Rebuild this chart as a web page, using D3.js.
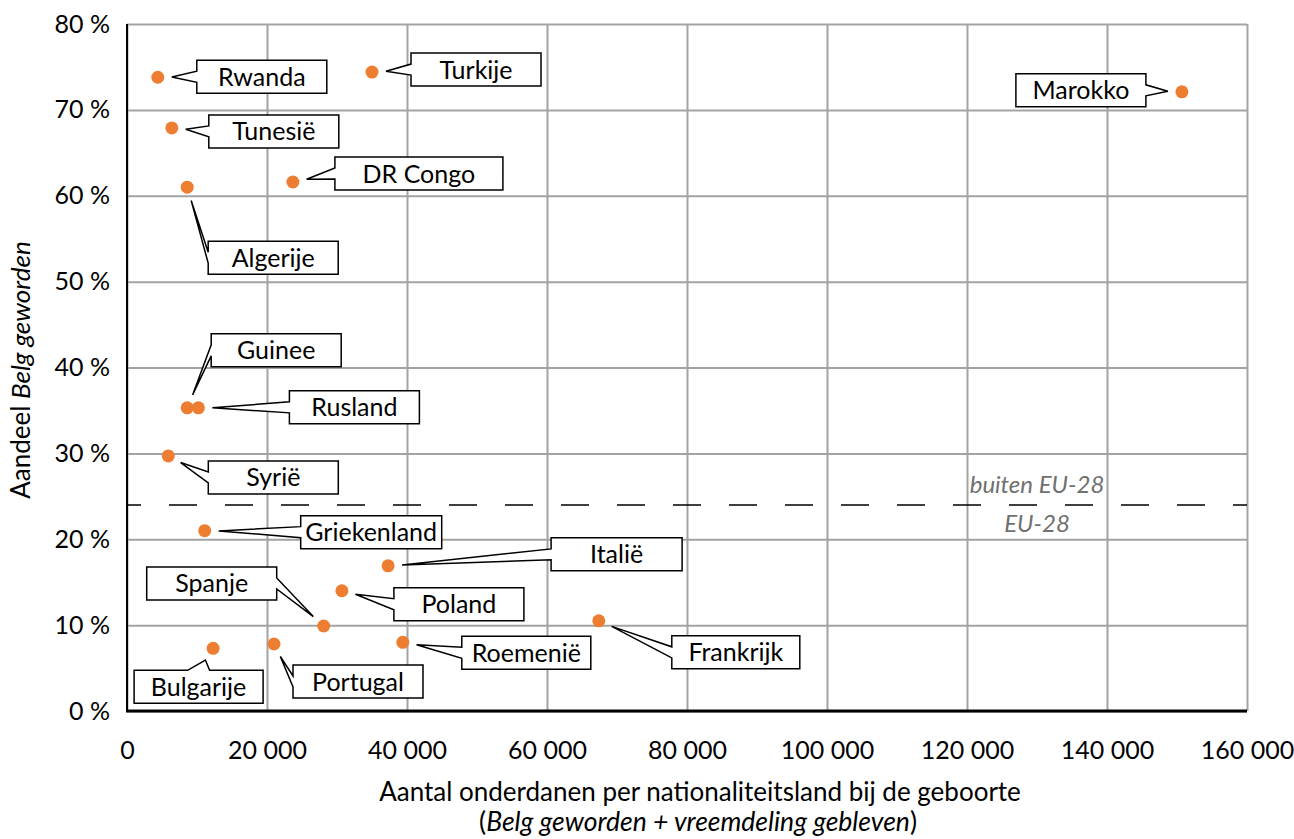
<!DOCTYPE html>
<html>
<head>
<meta charset="utf-8">
<script src="https://cdn.jsdelivr.net/npm/d3@7"></script>
<style>
  html, body { margin: 0; padding: 0; background: #fff; }
  svg { display: block; font-family: Lato, "Open Sans", sans-serif; }
</style>
</head>
<body>
<svg id="chart" width="1294" height="839"></svg>
<script>
// ---------------- data ----------------
const countries = ["Rwanda", "Turkije", "Marokko", "Tunesië", "DR Congo", "Algerije", "Guinee", "Rusland", "Syrië",
  "Griekenland", "Italië", "Poland", "Spanje", "Frankrijk", "Roemenië", "Portugal", "Bulgarije"];
const totals = [4400, 35000, 150700, 6400, 23700, 8600, 8600, 10200, 5900,
  11100, 37300, 30700, 28100, 67400, 39400, 21000, 12300];
const shares = [73.8, 74.4, 72.1, 67.9, 61.6, 61.0, 35.3, 35.3, 29.7,
  21.0, 16.9, 14.0, 9.9, 10.5, 8.0, 7.8, 7.3];
const xTicks = [0, 20000, 40000, 60000, 80000, 100000, 120000, 140000, 160000];
const yTicks = [0, 10, 20, 30, 40, 50, 60, 70, 80];
const thresholdShare = 24;
const thresholdAbove = "buiten EU-28";
const thresholdBelow = "EU-28";
const xTitle1 = "Aantal onderdanen per nationaliteitsland bij de geboorte";
const yTitlePlain = "Aandeel ";
const yTitleItalic = "Belg geworden";

// ---------------- layout (label box offsets relative to the point, px) ----------------
const labelLayout = [
  {dx: 39, dy: -17, w: 130}, {dx: 39, dy: -19, w: 130}, {dx: -166, dy: -18, w: 130},
  {dx: 37, dy: -13, w: 130}, {dx: 42, dy: -25, w: 168}, {dx: 21, dy: 54, w: 130},
  {dx: 24, dy: -74, w: 130}, {dx: 91, dy: -17, w: 130}, {dx: 40, dy: 5, w: 130},
  {dx: 96, dy: -15, w: 141}, {dx: 163, dy: -28, w: 131}, {dx: 52, dy: -3, w: 130},
  {dx: -177, dy: -59, w: 130}, {dx: 73, dy: 15, w: 128}, {dx: 59, dy: -6, w: 129},
  {dx: 19, dy: 21, w: 130}, {dx: -79, dy: 22, w: 129}
];
const boxH = 33;

const svg = d3.select("#chart");
const M = {left: 127, right: 1247, top: 24, bottom: 711};
const W = M.right - M.left, H = M.bottom - M.top;

const x = d3.scaleLinear().domain([0, 160000]).range([M.left, M.right]);
const y = d3.scaleLinear().domain([0, 80]).range([M.bottom, M.top]);

svg.append("rect").attr("width", 1294).attr("height", 839).attr("fill", "#fff");

const locale = d3.formatLocale({decimal: ",", thousands: "\u00a0", grouping: [3], currency: ["€", ""]});
const fmt = locale.format(",d");

// gridlines
svg.append("g").attr("transform", `translate(0,${M.bottom})`)
  .call(d3.axisBottom(x).tickValues(xTicks).tickSize(-H).tickFormat(""))
  .call(g => g.select(".domain").remove())
  .call(g => g.selectAll("line").attr("stroke", "#a3a3a3").attr("stroke-width", 2));
svg.append("g").attr("transform", `translate(${M.left},0)`)
  .call(d3.axisLeft(y).tickValues(yTicks).tickSize(-W).tickFormat(""))
  .call(g => g.select(".domain").remove())
  .call(g => g.selectAll("line").attr("stroke", "#a3a3a3").attr("stroke-width", 2));

// tick labels
svg.append("g").attr("transform", `translate(0,${M.bottom})`)
  .call(d3.axisBottom(x).tickValues(xTicks).tickSize(0).tickPadding(30).tickFormat(fmt))
  .call(g => g.select(".domain").remove())
  .call(g => g.selectAll("text").attr("font-size", 25).attr("font-family", "Lato").attr("fill", "#000"));
svg.append("g").attr("transform", `translate(${M.left},0)`)
  .call(d3.axisLeft(y).tickValues(yTicks).tickSize(0).tickPadding(17).tickFormat(d => d + " %"))
  .call(g => g.select(".domain").remove())
  .call(g => g.selectAll("text").attr("font-size", 25).attr("font-family", "Lato").attr("fill", "#000"));

// axis lines
svg.append("line").attr("x1", M.left).attr("x2", M.left).attr("y1", M.top).attr("y2", M.bottom + 1)
  .attr("stroke", "#000").attr("stroke-width", 2);
svg.append("line").attr("x1", M.left - 1).attr("x2", M.right).attr("y1", M.bottom).attr("y2", M.bottom)
  .attr("stroke", "#000").attr("stroke-width", 3);

// threshold dashed line
svg.append("line").attr("x1", x(0)).attr("x2", x(160000)).attr("y1", y(thresholdShare)).attr("y2", y(thresholdShare))
  .attr("stroke", "#000").attr("stroke-width", 1.5).attr("stroke-dasharray", "28,28").attr("stroke-dashoffset", 14);
svg.append("text").attr("x", x(130000)).attr("y", y(thresholdShare) - 12)
  .attr("text-anchor", "middle").attr("font-style", "italic").attr("font-size", 24).attr("fill", "#707070")
  .text(thresholdAbove);
svg.append("text").attr("x", x(130000)).attr("y", y(thresholdShare) + 27)
  .attr("text-anchor", "middle").attr("font-style", "italic").attr("font-size", 24).attr("fill", "#707070")
  .text(thresholdBelow);

// data
const data = countries.map((c, i) => ({name: c, v: totals[i], p: shares[i], lay: labelLayout[i]}));

function callout(d) {
  const px = x(d.v), py = y(d.p);
  const l = px + d.lay.dx, t = py + d.lay.dy, r = l + d.lay.w, b = t + boxH;
  const cx = (l + r) / 2, cy = (t + b) / 2;
  let side;
  if (px < l) side = "left"; else if (px > r) side = "right"; else if (py < t) side = "top"; else side = "bottom";
  const hv = 5.5, hh = 11;
  const mid = side === "left" ? [l, cy] : side === "right" ? [r, cy] : side === "top" ? [cx, t] : [cx, b];
  const ddx = mid[0] - px, ddy = mid[1] - py, len = Math.hypot(ddx, ddy);
  const tip = [px + 14 * ddx / len, py + 14 * ddy / len];
  const p = d3.path();
  p.moveTo(l, t);
  if (side === "top") { p.lineTo(cx - hh, t); p.lineTo(tip[0], tip[1]); p.lineTo(cx + hh, t); }
  p.lineTo(r, t);
  if (side === "right") { p.lineTo(r, cy - hv); p.lineTo(tip[0], tip[1]); p.lineTo(r, cy + hv); }
  p.lineTo(r, b);
  if (side === "bottom") { p.lineTo(cx + hh, b); p.lineTo(tip[0], tip[1]); p.lineTo(cx - hh, b); }
  p.lineTo(l, b);
  if (side === "left") { p.lineTo(l, cy + hv); p.lineTo(tip[0], tip[1]); p.lineTo(l, cy - hv); }
  p.closePath();
  return {path: p.toString(), cx, cy};
}

const labels = svg.append("g").selectAll("g").data(data).join("g");
labels.append("path").attr("d", d => callout(d).path)
  .attr("fill", "#fff").attr("stroke", "#000").attr("stroke-width", 1.5).attr("stroke-linejoin", "miter");
labels.append("text").attr("x", d => callout(d).cx).attr("y", d => callout(d).cy).attr("dy", "0.36em")
  .attr("text-anchor", "middle").attr("font-size", 25).attr("fill", "#000").text(d => d.name);

svg.append("g").selectAll("circle").data(data).join("circle")
  .attr("cx", d => x(d.v)).attr("cy", d => y(d.p)).attr("r", 6.5).attr("fill", "#ED7D31");

// axis titles
svg.append("text").attr("x", 700).attr("y", 801).attr("text-anchor", "middle")
  .attr("font-size", 26).attr("fill", "#000").text(xTitle1);
const xt2 = svg.append("text").attr("x", 698).attr("y", 831).attr("text-anchor", "middle").attr("font-size", 26.5).attr("fill", "#000");
xt2.append("tspan").text("(");
xt2.append("tspan").attr("font-style", "italic").text("Belg geworden + vreemdeling gebleven");
xt2.append("tspan").text(")");

const yt = svg.append("text").attr("transform", "translate(30,370) rotate(-90)").attr("text-anchor", "middle")
  .attr("font-size", 26).attr("fill", "#000");
yt.append("tspan").text(yTitlePlain);
yt.append("tspan").attr("font-style", "italic").text(yTitleItalic);
</script>
</body>
</html>
